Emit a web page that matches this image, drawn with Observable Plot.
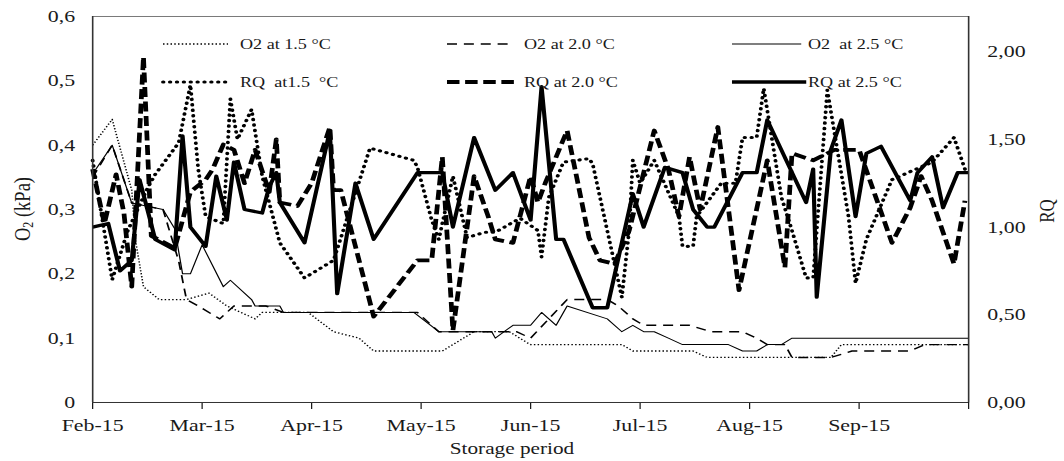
<!DOCTYPE html>
<html>
<head>
<meta charset="utf-8">
<script src="https://cdn.jsdelivr.net/npm/d3@7"></script>
<script src="https://cdn.jsdelivr.net/npm/@observablehq/plot@0.6"></script>
<style>
  html, body { margin: 0; padding: 0; background: #fff; }
  #frame { width: 1064px; height: 461px; overflow: hidden; }
  #stretch { transform: scaleX(1.25); transform-origin: 0 0; }
  #stretch text { white-space: pre; }
</style>
</head>
<body>
<div id="frame"><div id="stretch"></div></div>
<script>
// O2 partial pressure (kPa) in the storage rooms
const o2At15 = [
  ["2015-02-01",0.40],["2015-02-06",0.44],["2015-02-11",0.33],["2015-02-12",0.25],["2015-02-14",0.18],
  ["2015-02-18",0.16],["2015-02-25",0.16],["2015-03-03",0.17],["2015-03-08",0.15],["2015-03-16",0.13],
  ["2015-03-18",0.14],["2015-03-31",0.14],["2015-04-07",0.11],["2015-04-14",0.10],["2015-04-18",0.08],
  ["2015-05-07",0.08],["2015-05-16",0.11],["2015-05-26",0.11],["2015-05-31",0.093],["2015-06-01",0.09],
  ["2015-06-26",0.09],["2015-06-29",0.08],["2015-07-16",0.08],["2015-07-20",0.07],["2015-08-24",0.07],
  ["2015-08-27",0.09],["2015-10-01",0.09]
];
const o2At20 = [
  ["2015-02-01",0.35],["2015-02-06",0.40],["2015-02-11",0.31],["2015-02-19",0.30],["2015-02-23",0.22],
  ["2015-02-25",0.16],["2015-02-28",0.15],["2015-03-06",0.13],["2015-03-10",0.15],["2015-03-19",0.15],
  ["2015-03-24",0.14],["2015-04-30",0.14],["2015-05-06",0.11],["2015-05-28",0.11],["2015-06-01",0.10],
  ["2015-06-11",0.16],["2015-06-22",0.16],["2015-06-25",0.15],["2015-06-29",0.13],["2015-07-02",0.12],
  ["2015-07-15",0.12],["2015-07-21",0.11],["2015-07-30",0.11],["2015-08-03",0.10],["2015-08-06",0.09],
  ["2015-08-11",0.09],["2015-08-13",0.07],["2015-08-24",0.07],["2015-08-30",0.08],["2015-09-15",0.08],
  ["2015-09-19",0.09],["2015-10-01",0.09]
];
const o2At25 = [
  ["2015-02-01",0.355],["2015-02-06",0.40],["2015-02-11",0.31],["2015-02-19",0.30],["2015-02-22",0.27],
  ["2015-02-24",0.20],["2015-02-26",0.20],["2015-03-01",0.245],["2015-03-07",0.18],["2015-03-09",0.19],
  ["2015-03-15",0.16],["2015-03-16",0.15],["2015-03-23",0.15],["2015-03-24",0.14],["2015-04-29",0.14],
  ["2015-05-06",0.11],["2015-05-21",0.11],["2015-05-22",0.10],["2015-05-27",0.12],["2015-06-01",0.12],
  ["2015-06-04",0.14],["2015-06-08",0.12],["2015-06-11",0.15],["2015-06-22",0.13],["2015-06-26",0.11],
  ["2015-06-29",0.12],["2015-07-02",0.11],["2015-07-05",0.11],["2015-07-09",0.10],["2015-07-13",0.09],
  ["2015-07-26",0.09],["2015-07-30",0.08],["2015-08-03",0.08],["2015-08-06",0.09],["2015-08-10",0.09],
  ["2015-08-13",0.10],["2015-10-01",0.10]
];

// Respiratory quotient
const rqAt15 = [
  ["2015-02-01",1.38],["2015-02-06",0.70],["2015-02-10",0.98],["2015-02-15",1.22],
  ["2015-02-17",1.30],["2015-02-23",1.48],["2015-02-26",1.81],["2015-02-28",1.33],["2015-03-02",1.06],
  ["2015-03-07",1.02],["2015-03-09",1.73],["2015-03-11",1.50],["2015-03-15",1.67],["2015-03-18",1.29],
  ["2015-03-23",0.91],["2015-03-30",0.71],["2015-04-07",0.81],["2015-04-17",1.45],["2015-04-29",1.38],
  ["2015-04-30",1.34],["2015-05-04",1.04],["2015-05-06",0.93],["2015-05-10",1.29],["2015-05-14",0.94],
  ["2015-05-19",0.97],["2015-05-22",0.97],["2015-05-29",1.05],["2015-06-03",0.98],["2015-06-04",0.83],
  ["2015-06-06",1.17],["2015-06-10",1.37],["2015-06-17",1.39],["2015-06-18",1.36],["2015-06-24",0.79],
  ["2015-06-26",0.60],["2015-06-28",0.98],["2015-06-29",1.38],["2015-07-01",1.25],["2015-07-05",1.38],
  ["2015-07-12",1.06],["2015-07-13",0.89],["2015-07-16",0.89],["2015-07-17",1.06],["2015-07-24",1.25],
  ["2015-07-28",1.25],["2015-07-30",1.51],["2015-08-03",1.51],["2015-08-05",1.79],["2015-08-10",1.17],
  ["2015-08-13",0.98],["2015-08-17",0.71],["2015-08-19",0.71],["2015-08-23",1.78],["2015-08-29",1.06],
  ["2015-08-31",0.68],["2015-09-03",0.93],["2015-09-10",1.27],["2015-09-21",1.37],["2015-09-27",1.51],
  ["2015-09-30",1.33]
];
const rqAt20 = [
  ["2015-02-01",1.33],["2015-02-04",1.02],["2015-02-07",1.30],["2015-02-09",1.08],["2015-02-11",0.66],
  ["2015-02-14",1.97],["2015-02-16",0.95],["2015-02-22",0.88],["2015-02-26",1.20],["2015-03-02",1.27],
  ["2015-03-04",1.33],["2015-03-07",1.47],["2015-03-10",1.44],["2015-03-13",1.25],["2015-03-16",1.44],
  ["2015-03-20",1.20],["2015-03-22",1.50],["2015-03-23",1.14],["2015-03-28",1.12],["2015-04-01",1.25],
  ["2015-04-06",1.57],["2015-04-07",1.21],["2015-04-09",1.21],["2015-04-18",0.49],["2015-04-30",0.81],
  ["2015-05-04",0.81],["2015-05-07",1.40],["2015-05-10",0.41],["2015-05-16",1.29],["2015-05-20",1.06],
  ["2015-05-22",0.93],["2015-05-27",0.91],["2015-06-01",1.29],["2015-06-03",1.14],["2015-06-05",1.25],
  ["2015-06-11",1.55],["2015-06-17",0.94],["2015-06-20",0.81],["2015-06-24",0.79],["2015-06-28",0.98],
  ["2015-07-05",1.55],["2015-07-09",1.33],["2015-07-12",1.06],["2015-07-15",1.40],["2015-07-18",1.10],
  ["2015-07-23",1.57],["2015-07-29",0.64],["2015-08-06",1.38],["2015-08-11",0.77],["2015-08-13",1.42],
  ["2015-08-19",1.38],["2015-08-25",1.44],["2015-09-01",1.44],["2015-09-10",0.91],["2015-09-15",1.11],
  ["2015-09-18",1.29],["2015-09-21",1.15],["2015-09-27",0.79],["2015-09-30",1.15]
];
const rqAt25 = [
  ["2015-02-01",1.00],["2015-02-05",1.02],["2015-02-08",0.75],["2015-02-11",0.81],["2015-02-13",1.27],
  ["2015-02-17",0.93],["2015-02-22",0.87],["2015-02-24",1.52],["2015-02-26",1.00],["2015-03-02",0.89],
  ["2015-03-05",1.29],["2015-03-08",1.04],["2015-03-10",1.37],["2015-03-13",1.10],["2015-03-18",1.08],
  ["2015-03-20",1.23],["2015-03-22",1.31],["2015-03-23",1.14],["2015-03-30",0.91],["2015-04-06",1.55],
  ["2015-04-08",0.62],["2015-04-13",1.25],["2015-04-18",0.93],["2015-04-30",1.31],["2015-05-07",1.31],
  ["2015-05-10",1.00],["2015-05-16",1.51],["2015-05-22",1.21],["2015-05-27",1.31],["2015-06-01",1.04],
  ["2015-06-04",1.80],["2015-06-08",0.93],["2015-06-10",0.93],["2015-06-18",0.54],["2015-06-22",0.54],
  ["2015-06-29",1.19],["2015-07-02",1.00],["2015-07-08",1.34],["2015-07-13",1.31],["2015-07-16",1.10],
  ["2015-07-20",1.00],["2015-07-22",1.00],["2015-07-30",1.31],["2015-08-03",1.31],["2015-08-06",1.61],
  ["2015-08-17",1.14],["2015-08-19",1.33],["2015-08-20",0.60],["2015-08-24",1.44],["2015-08-27",1.61],
  ["2015-08-31",1.06],["2015-09-03",1.42],["2015-09-07",1.46],["2015-09-15",1.15],["2015-09-17",1.31],
  ["2015-09-21",1.40],["2015-09-24",1.11],["2015-09-28",1.31],["2015-10-01",1.31]
];

// Axis ticks
const o2Ticks = [0, 0.1, 0.2, 0.3, 0.4, 0.5, 0.6];
const rqTicks = [0, 0.5, 1, 1.5, 2];
const o2Max = 0.6;
const rqMax = 2.2;
const months = d3.utcMonth.range(new Date("2015-02-01"), new Date("2015-10-02"));

// Series: the O2 lines on the left axis, the RQ lines on the right axis
const series = [
  {label: "O2 at 1.5 \u00b0C",  data: o2At15, axis: "o2", width: 1.3, dash: "1.2,1.8", cap: "butt"},
  {label: "O2 at 2.0 \u00b0C",  data: o2At20, axis: "o2", width: 1.4, dash: "8,5.5", cap: "butt"},
  {label: "O2  at 2.5 \u00b0C", data: o2At25, axis: "o2", width: 1.0, dash: null, cap: "butt"},
  {label: "RQ  at1.5  \u00b0C", data: rqAt15, axis: "rq", width: 3.1, dash: "0.4,5.1", cap: "round"},
  {label: "RQ at 2.0 \u00b0C",  data: rqAt20, axis: "rq", width: 3.8, dash: "10,4.5", cap: "butt"},
  {label: "RQ at 2.5 \u00b0C",  data: rqAt25, axis: "rq", width: 3.3, dash: null, cap: "butt"}
];

// RQ values are drawn on the O2 scale, rescaled so that rqMax meets o2Max
const k = o2Max / rqMax;
const rows = series.map(s => s.data.map(([date, value]) => ({
  date: new Date(date),
  value,
  y: s.axis === "rq" ? value * k : value
})));

const SX = 1.25;                 // the whole drawing is widened by this factor
const W = 1064 / SX, H = 461;
const mL = 92 / SX, mR = (1064 - 968) / SX, mT = 16, mB = 59;
const fmtMonth = d3.utcFormat("%b-%y");
const comma = (v, n) => v.toFixed(n).replace(".", ",");
const font = "'Liberation Serif', 'Times New Roman', serif";
const ink = "#1a1a1a";

const chart = Plot.plot({
  width: W,
  height: H,
  marginLeft: mL,
  marginRight: mR,
  marginTop: mT,
  marginBottom: mB,
  style: {fontFamily: font, fontSize: "17.5px", color: ink, background: "#fff"},
  x: {type: "utc", domain: months, range: [mL, W - mR]},
  y: {domain: [0, o2Max]},
  marks: [
    Plot.frame({stroke: "#7a7a7a"}),
    Plot.axisX({ticks: months, tickFormat: d => +d < +months[months.length - 1] ? fmtMonth(d) : "", tickSize: 7, tickPadding: 9, label: null}),
    Plot.axisY({anchor: "left", ticks: o2Ticks, tickFormat: d => d === 0 ? "0" : comma(d, 1), tickSize: 0, tickPadding: 14, label: null}),
    Plot.axisY({anchor: "right", ticks: rqTicks.map(v => v * k), tickFormat: v => comma(v / k, 2), tickSize: 0, tickPadding: 15, label: null}),
    ...series.map((s, i) => Plot.line(rows[i], {
      x: "date",
      y: "y",
      stroke: "#000",
      strokeWidth: s.width,
      strokeDasharray: s.dash,
      strokeLinecap: s.cap,
      strokeLinejoin: "round"
    })),
    Plot.ruleY([0], {stroke: "#333", strokeWidth: 1.2}),
    Plot.ruleX([months[0], months[months.length - 1]], {stroke: "#333", strokeWidth: 1.2})
  ]
});

document.getElementById("stretch").appendChild(chart);

const svg = d3.select(chart);

// Legend, two rows of three inside the plot area
const legendCols = [{x1: 130.4, x2: 182.4, tx: 192}, {x1: 357.6, x2: 411.2, tx: 419.2}, {x1: 585.6, x2: 641, tx: 646.4}];
const legendRows = [44, 82];
const legend = svg.append("g")
  .attr("font-family", font).attr("font-size", 14.5).attr("fill", ink)
  .attr("text-anchor", "start");
series.forEach((s, i) => {
  const col = legendCols[i % 3], y = legendRows[Math.floor(i / 3)];
  const x2 = s.axis === "rq" && i % 3 > 0 ? col.x2 + 4 : col.x2;
  legend.append("line")
    .attr("x1", col.x1).attr("x2", x2).attr("y1", y).attr("y2", y)
    .attr("stroke", "#000").attr("stroke-width", s.width)
    .attr("stroke-dasharray", s.dash)
    .attr("stroke-linecap", s.cap);
  legend.append("text")
    .attr("x", col.tx).attr("y", y + 5)
    .style("white-space", "pre")
    .text(s.label);
});

// Axis titles
svg.append("text")
  .attr("x", 409.6).attr("y", 454)
  .attr("text-anchor", "middle")
  .attr("font-family", font).attr("font-size", 17).attr("fill", ink)
  .text("Storage period");

const o2Title = svg.append("text")
  .attr("transform", `translate(${22 / SX},209) rotate(-90)`)
  .attr("text-anchor", "middle")
  .attr("dominant-baseline", "central")
  .attr("font-family", font).attr("font-size", 18.5).attr("fill", ink);
o2Title.append("tspan").text("O");
o2Title.append("tspan").attr("font-size", 12).attr("dy", 4).text("2");
o2Title.append("tspan").attr("dy", -4).text(" (kPa)");

svg.append("text")
  .attr("transform", `translate(${1047 / SX},211) rotate(-90)`)
  .attr("text-anchor", "middle")
  .attr("dominant-baseline", "central")
  .attr("font-family", font).attr("font-size", 17).attr("fill", ink)
  .text("RQ");
</script>
</body>
</html>
